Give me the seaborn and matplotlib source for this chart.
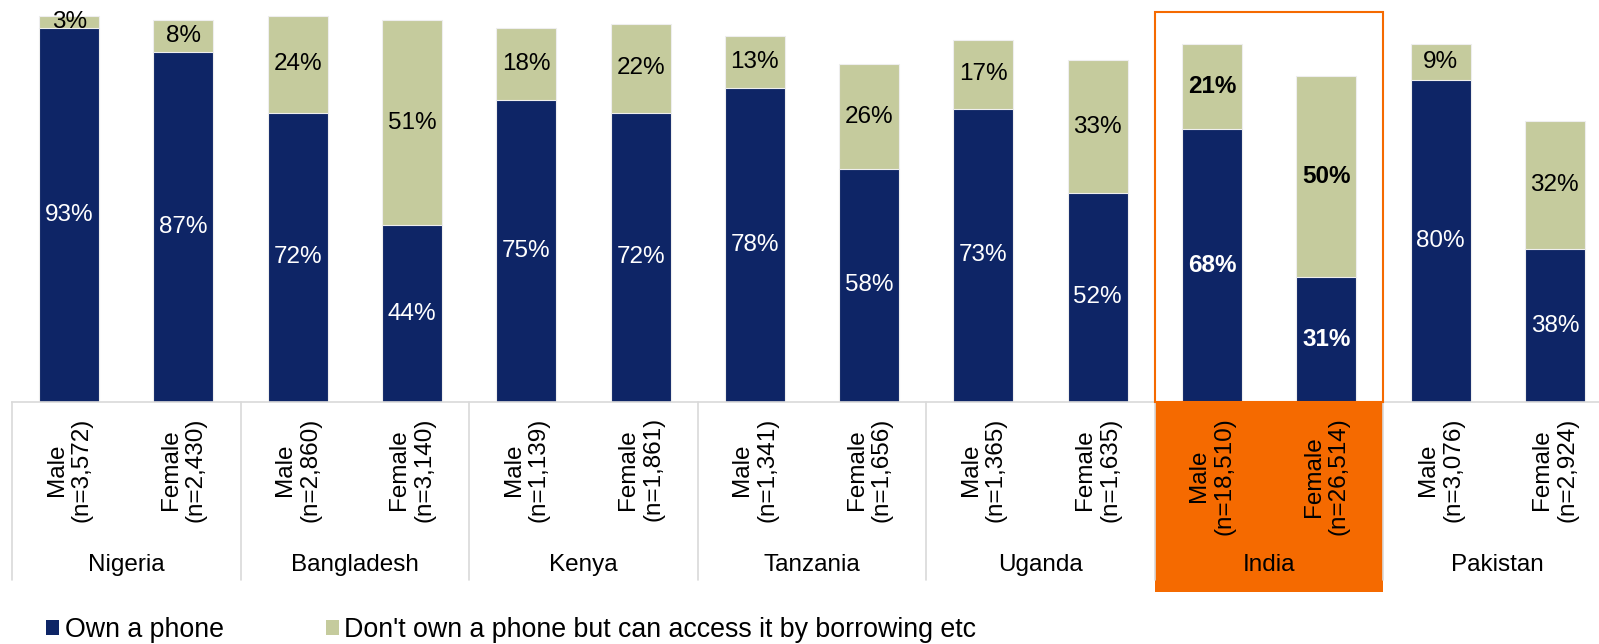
import matplotlib
matplotlib.use("Agg")
import matplotlib.pyplot as plt
from matplotlib.patches import Rectangle, Patch
import seaborn as sns
import pandas as pd

# Survey groups, respondent counts and phone access shares (%)
countries = ["Nigeria", "Bangladesh", "Kenya", "Tanzania", "Uganda", "India", "Pakistan"]
genders = ["Male", "Female"]
sample_sizes = ["3,572", "2,430", "2,860", "3,140", "1,139", "1,861", "1,341", "1,656",
                "1,365", "1,635", "18,510", "26,514", "3,076", "2,924"]
own_phone = [93, 87, 72, 44, 75, 72, 78, 58, 73, 52, 68, 31, 80, 38]
borrow_phone = [3, 8, 24, 51, 18, 22, 13, 26, 17, 33, 21, 50, 9, 32]
highlight_country = "India"

NAVY = "#0E2566"
SAGE = "#C5CB9D"
ORANGE = "#F56A00"
GRID = "#D9D9D9"

sns.set_theme(style="white")
plt.rcParams["font.family"] = ["Liberation Sans", "DejaVu Sans"]
plt.rcParams["text.color"] = "black"

rows = []
for i, n in enumerate(sample_sizes):
    country = countries[i // 2]
    gender = genders[i % 2]
    rows.append({
        "group": f"{gender}\n(n={n})",
        "country": country,
        "own": own_phone[i],
        "borrow": borrow_phone[i],
        "total": own_phone[i] + borrow_phone[i],
    })
df = pd.DataFrame(rows)
order = list(df["group"])

fig = plt.figure(figsize=(15.99, 6.44), dpi=100)
ax = fig.add_axes([12 / 1599, 242 / 644, 1600 / 1599, 402 / 644])

bar_w = 0.525
sns.barplot(data=df, x="group", y="total", order=order, color=SAGE, width=bar_w,
            saturation=1, edgecolor="#EEEEEE", linewidth=0.8, ax=ax)
sns.barplot(data=df, x="group", y="own", order=order, color=NAVY, width=bar_w,
            saturation=1, edgecolor="#EEEEEE", linewidth=0.8, ax=ax)

ax.set_xlim(-0.5, len(order) - 0.5)
ax.set_ylim(0, 100)
ax.set_xlabel("")
ax.set_ylabel("")
ax.set_yticks([])
for s in ["top", "right", "left"]:
    ax.spines[s].set_visible(False)
ax.spines["bottom"].set_color(GRID)
ax.spines["bottom"].set_linewidth(1.2)

FS = 17.5

# Segment value labels
for i, r in df.iterrows():
    bold = r["country"] == highlight_country
    w = "bold" if bold else "normal"
    ax.text(i, r["own"] / 2, f"{r['own']}%", ha="center", va="center",
            color="white", fontsize=FS, fontweight=w)
    ax.text(i, r["own"] + r["borrow"] / 2, f"{r['borrow']}%", ha="center", va="center",
            color="black", fontsize=FS, fontweight=w)

# Gender / sample size tick labels
ax.tick_params(axis="x", length=0, pad=11)
ax.set_xticks(range(len(order)))
ax.set_xticklabels(order, rotation=90, ha="center", va="top", multialignment="center",
                   fontsize=FS, color="black", linespacing=1.18)

trans = ax.get_xaxis_transform()
sep_bottom = -178 / 402

# Highlighted country frame and label band
hi = countries.index(highlight_country)
x0 = 2 * hi - 0.5
ax.add_patch(Rectangle((x0, 0), 2, 97, fill=False, edgecolor=ORANGE,
                       linewidth=1.5, clip_on=False, zorder=3))
ax.add_patch(Rectangle((x0, -190 / 402), 2, 190 / 402, transform=trans,
                       facecolor=ORANGE, edgecolor="none", clip_on=False, zorder=0))

# Group separators and country names
for k in range(len(countries) + 1):
    xs = 2 * k - 0.5
    ax.plot([xs, xs], [0, sep_bottom], transform=trans, color=GRID, lw=1.2,
            clip_on=False, zorder=1)
for k, c in enumerate(countries):
    ax.text(2 * k + 0.5, -163 / 402, c, transform=trans, ha="center", va="center",
            fontsize=FS, color="black")

handles = [Patch(facecolor=NAVY, edgecolor="none", label="Own a phone"),
           Patch(facecolor=SAGE, edgecolor="none",
                 label="Don't own a phone but can access it by borrowing etc")]
fig.legend(handles=handles, loc="lower left", bbox_to_anchor=(46 / 1599, 1 / 644),
           ncol=2, frameon=False, fontsize=19.3, handlelength=0.5, handleheight=0.5,
           handletextpad=0.2, columnspacing=3.8, borderaxespad=0, borderpad=0,
           labelcolor="black")

fig.savefig("out.png", dpi=100)
